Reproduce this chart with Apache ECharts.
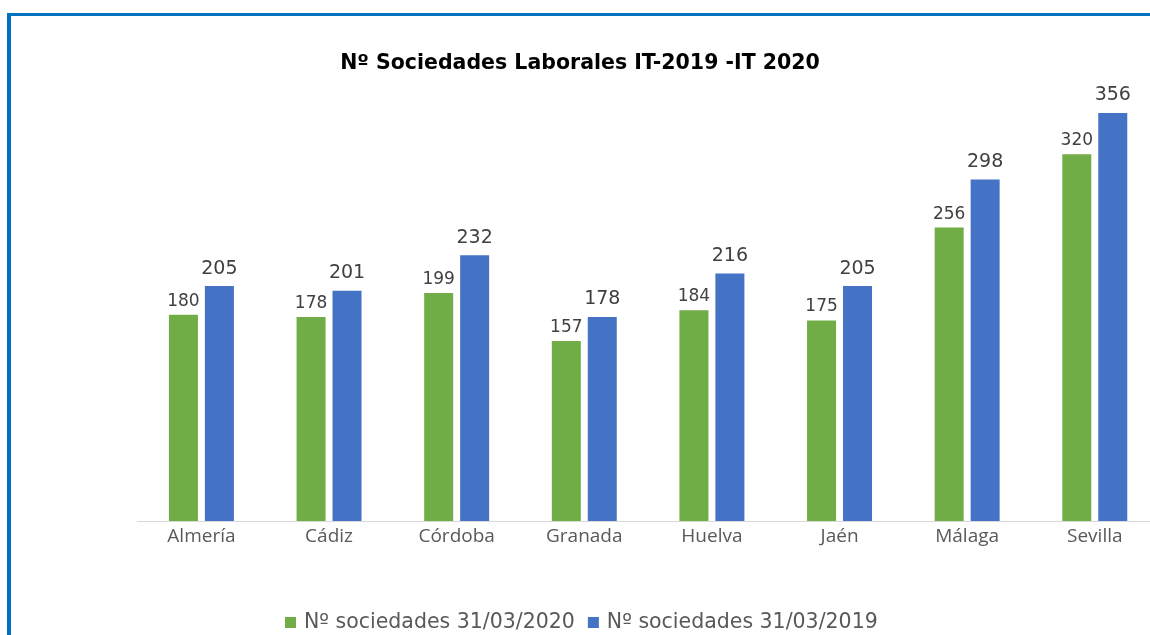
<!DOCTYPE html>
<html>
<head>
<meta charset="utf-8">
<script src="https://cdn.jsdelivr.net/npm/echarts@6/dist/echarts.min.js"></script>
<style>
html,body{margin:0;padding:0;background:#fff;overflow:hidden;width:1150px;height:635px;}
#chart{width:1180px;height:635px;}
</style>
</head>
<body>
<div id="chart"></div>
<script>
var categories = ['Almería', 'Cádiz', 'Córdoba', 'Granada', 'Huelva', 'Jaén', 'Málaga', 'Sevilla'];
var series2020 = [180, 178, 199, 157, 184, 175, 256, 320];
var series2019 = [205, 201, 232, 178, 216, 205, 298, 356];
var seriesNames = ['Nº sociedades 31/03/2020', 'Nº sociedades 31/03/2019'];
var titleText = 'Nº Sociedades Laborales IT-2019 -IT 2020';

var chart = echarts.init(document.getElementById('chart'), null, {renderer: 'canvas'});
chart.setOption({
  backgroundColor: '#ffffff',
  animation: false,
  title: {
    text: titleText,
    left: 575,
    textAlign: 'center',
    top: 48,
    textStyle: {fontFamily: 'DejaVu Sans', fontWeight: 'bold', fontSize: 20.5, color: '#000000'}
  },
  legend: {
    data: seriesNames,
    left: 280,
    top: 607,
    itemWidth: 11,
    itemHeight: 11,
    itemGap: 13,
    icon: 'rect',
    textStyle: {fontFamily: 'DejaVu Sans', fontSize: 20.5, color: '#595959', padding: [0, 0, 0, 3]}
  },
  grid: {left: 137.6, width: 1021, top: 62.6, bottom: 114, containLabel: false},
  xAxis: {
    type: 'category',
    data: categories,
    axisLine: {lineStyle: {color: '#d9d9d9', width: 1}},
    axisTick: {show: false},
    axisLabel: {fontFamily: 'Open Sans', fontSize: 19, color: '#595959', margin: 6}
  },
  yAxis: {
    type: 'value',
    min: 0,
    max: 400,
    show: false,
    splitLine: {show: false}
  },
  series: [
    {
      name: seriesNames[0],
      type: 'bar',
      data: series2020,
      barWidth: 29,
      barGap: '24%',
      itemStyle: {color: '#70ad47'},
      label: {show: true, position: 'top', distance: 5, fontFamily: 'DejaVu Sans', fontSize: 17, color: '#404040'}
    },
    {
      name: seriesNames[1],
      type: 'bar',
      data: series2019,
      barWidth: 29,
      barGap: '24%',
      itemStyle: {color: '#4472c4'},
      label: {show: true, position: 'top', distance: 8, fontFamily: 'DejaVu Sans', fontSize: 19, color: '#404040'}
    }
  ],
  graphic: [
    {type: 'rect', shape: {x: 7, y: 13, width: 1143, height: 3}, style: {fill: '#0070c0'}, silent: true},
    {type: 'rect', shape: {x: 7, y: 13, width: 4, height: 622}, style: {fill: '#0070c0'}, silent: true}
  ]
});
</script>
</body>
</html>
